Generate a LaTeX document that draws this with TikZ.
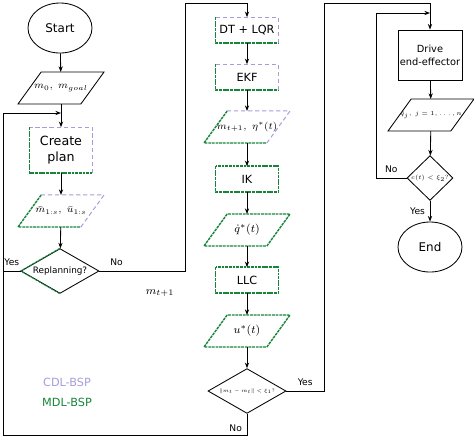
\documentclass[tikz,border=0pt]{standalone}
\usepackage{amsmath}
\usepackage{amssymb}
\usepackage{fontspec}
\setmainfont{DejaVu Sans}
\usepackage{tikz}
\usetikzlibrary{arrows.meta, shapes.geometric}
\definecolor{cdlcol}{HTML}{A99BDB}
\definecolor{mdlcol}{HTML}{16853A}

\begin{document}
\begin{tikzpicture}[x=0.025cm, y=-0.025cm, >={Stealth[length=4pt, width=3pt]}, line width=0.6pt,
    term/.style={ellipse, draw, fill=white, minimum width=1.6cm, minimum height=1.25cm, font=\fontsize{8.5}{10}\selectfont},
    box/.style={rectangle, fill=white, minimum width=1.55cm, minimum height=0.62cm, inner sep=1pt, align=center, font=\fontsize{8}{9.5}\selectfont},
    io/.style={rectangle, minimum width=1.55cm, minimum height=0.78cm, inner sep=0pt, font=\fontsize{7.5}{9}\selectfont},
    test/.style={diamond, aspect=1.75, draw, fill=white, inner sep=0pt, minimum width=1.95cm, minimum height=1.12cm},
    lbl/.style={font=\fontsize{6.5}{7}\selectfont},
    tiny/.style={font=\fontsize{5}{6}\selectfont, transform shape},
    mdl/.style={draw=mdlcol, line width=1pt, dash pattern=on 2pt off 0.6pt},
    cdl/.style={draw=cdlcol, line width=0.7pt, densely dashed}]
    \useasboundingbox (0,0) rectangle (474,437);

    % Planning Column
    \node[term] (start) at (60,28) {Start};
    \node[io] (in0) at (61,88) {$m_0,\ m_{goal}$};
    \node[box, minimum height=1.12cm, font=\fontsize{9}{11}\selectfont] (plan) at (61,150) {Create\\plan};
    \node[io] (traj) at (61,211) {$\bar{m}_{1:s},\ \bar{u}_{1:s}$};
    \node[test] (rep) at (60,271) {};
    \node[font=\fontsize{6.3}{7}\selectfont] (reptxt) at (rep) {Replanning?};

    % Control Column
    \node[box] (dtlqr) at (247,30) {DT + LQR};
    \node[box] (ekf) at (247,77) {EKF};
    \node[io] (est) at (247,127) {$m_{t+1},\ \eta^*(t)$};
    \node[box] (ik) at (247,179) {IK};
    \node[io, font=\fontsize{8}{9}\selectfont] (qd) at (247,230) {$\dot{q}^*(t)$};
    \node[box] (llc) at (247,280) {LLC};
    \node[io, font=\fontsize{8}{9}\selectfont] (ut) at (247,331) {$u^*(t)$};
    \node[test] (chk) at (247,391) {};
    \node[tiny, scale=0.72] (chktxt) at (chk) {$\|m_t - m_t\| < \xi_1?$};

    % Execution Column
    \node[box, draw, minimum width=1.6cm, minimum height=1.25cm, font=\fontsize{7}{9}\selectfont] (drive) at (430,55) {Drive\\end-effector};
    \node[io] (qhat) at (431,115) {};
    \node[tiny, scale=0.88] (qhattxt) at (qhat) {$\hat{q}_j,\ j=1,\ldots,n$};
    \node[test, aspect=1, minimum width=1.15cm] (ct) at (430,178) {};
    \node[tiny, scale=0.85] (cttxt) at (ct) {$c(t) < \xi_2?$};
    \node[term] (stop) at (430,247) {End};

    % Parallelograms
    \foreach \n in {in0, qhat}
        \draw ([xshift=0.29cm]\n.north west) -- ([xshift=-0.29cm]\n.south west) -- ([xshift=-0.29cm]\n.south east) -- ([xshift=0.29cm]\n.north east) -- cycle;
    \foreach \n in {traj, est} {
        \draw[mdl] ([xshift=0.29cm]\n.north west) -- ([xshift=-0.29cm]\n.south west) -- ([xshift=-0.29cm]\n.south east);
        \draw[cdl] ([xshift=-0.29cm]\n.south east) -- ([xshift=0.29cm]\n.north east) -- ([xshift=0.29cm]\n.north west);
    }
    \foreach \n in {qd, ut}
        \draw[mdl] ([xshift=0.29cm]\n.north west) -- ([xshift=-0.29cm]\n.south west) -- ([xshift=-0.29cm]\n.south east) -- ([xshift=0.29cm]\n.north east) -- cycle;

    % Borders (MDL-BSP and CDL-BSP)
    \foreach \n in {plan, dtlqr, ekf} {
        \draw[mdl] (\n.north west) |- (\n.south east);
        \draw[cdl] (\n.south east) |- (\n.north west);
    }
    \foreach \n in {ik, llc}
        \draw[mdl] (\n.north west) rectangle (\n.south east);
    \draw[mdl, line width=0.7pt] (rep.north) -- (rep.west) -- (rep.south);

    % Corners of the loops
    \coordinate (jn) at (61,113);
    \coordinate (lt) at (3,113);
    \coordinate (ly) at (3,271);
    \coordinate (lb) at (3,435);
    \coordinate (cb) at (247,435);
    \coordinate (t1) at (185,3);
    \coordinate (t2) at (324,3);
    \coordinate (t3) at (376,13);

    % Connectors
    \draw[->] (start) -- (in0);
    \draw[->] (in0) -- (plan);
    \draw[->] (lt) -- (jn);
    \draw[->] (plan) -- (traj);
    \draw[->] (traj) -- (rep);
    \draw (rep.west) -- node[lbl, above] {Yes} (ly) -- (lt);
    \draw[->] (rep.east) -- node[lbl, above, pos=0.2] {No} (rep.east -| t1) -- (t1) -| (dtlqr.north);
    \foreach \a/\b in {dtlqr/ekf, ekf/est, est/ik, ik/qd, qd/llc, llc/ut, ut/chk}
        \draw[->] (\a) -- (\b);
    \draw[->] (chk.east) -- node[lbl, above] {Yes} (chk.east -| t2) -- (t2) -| (drive.north);
    \draw (chk.south) -- node[lbl, left, pos=0.7] {No} (cb) -- (lb) -- (ly);
    \draw[->] (drive) -- (qhat);
    \draw[->] (qhat) -- (ct);
    \draw (ct.west) -- node[lbl, above] {No} (ct.west -| t3) -- (t3);
    \draw[->] (t3) -- (t3 -| drive.north);
    \draw[->] (ct) -- node[lbl, left] {Yes} (stop);

    % Labels
    \node[font=\fontsize{8}{9}\selectfont] (mnext) at (160,293) {$m_{t+1}$};
    \node[text=cdlcol, font=\fontsize{8}{9}\selectfont] (cdlleg) at (67,382) {CDL-BSP};
    \node[text=mdlcol, font=\fontsize{8}{9}\selectfont] (mdlleg) at (67,402) {MDL-BSP};
\end{tikzpicture}
\end{document}
